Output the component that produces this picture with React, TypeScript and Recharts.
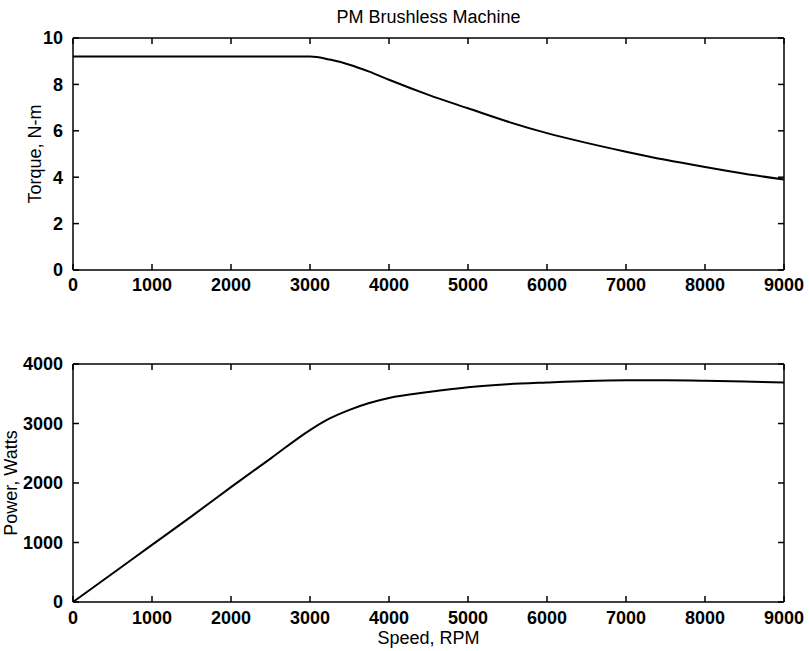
import { Label, Line, LineChart, XAxis, YAxis } from "recharts";

// values
const speedRpm = [
  0, 500, 1000, 1500, 2000, 2500, 3000, 3250, 3500, 3750, 4000, 4500, 5000,
  5500, 6000, 6500, 7000, 7500, 8000, 8500, 9000,
];
const torqueNm = [
  9.2, 9.2, 9.2, 9.2, 9.2, 9.2, 9.2, 9.07, 8.85, 8.55, 8.2, 7.55, 6.97, 6.4,
  5.9, 5.48, 5.1, 4.75, 4.44, 4.15, 3.9,
];
const powerW = [
  0, 480, 960, 1440, 1930, 2410, 2890, 3085, 3230, 3345, 3430, 3530, 3610,
  3660, 3690, 3715, 3725, 3725, 3718, 3705, 3690,
];

const speedTicks = [0, 1000, 2000, 3000, 4000, 5000, 6000, 7000, 8000, 9000];
const torqueTicks = [0, 2, 4, 6, 8, 10];
const powerTicks = [0, 1000, 2000, 3000, 4000];

const data = speedRpm.map((speed, i) => ({
  speed,
  torque: torqueNm[i],
  power: powerW[i],
}));

const FONT = "'Liberation Sans', Arial, Helvetica, sans-serif";
const TICK_LEN = 6;
const axisLine = { stroke: "#000", strokeWidth: 1.5 };

// matlab style: tick marks point into the plot box
function BottomTick(gap: number) {
  return (props: any) => {
    const { x, y, payload } = props;
    const axisY = y - gap;
    return (
      <g>
        <line x1={x} x2={x} y1={axisY} y2={axisY - TICK_LEN} stroke="#000" strokeWidth={1.5} />
        <text
          x={x}
          y={y}
          dy="0.72em"
          textAnchor="middle"
          fill="#000"
          fontSize={18}
          fontWeight={700}
          fontFamily={FONT}
        >
          {payload.value}
        </text>
      </g>
    );
  };
}

function LeftTick(gap: number) {
  return (props: any) => {
    const { x, y, payload } = props;
    const axisX = x + gap;
    return (
      <g>
        <line x1={axisX} x2={axisX + TICK_LEN} y1={y} y2={y} stroke="#000" strokeWidth={1.5} />
        <text
          x={x}
          y={y}
          dy="0.36em"
          textAnchor="end"
          fill="#000"
          fontSize={18}
          fontWeight={700}
          fontFamily={FONT}
        >
          {payload.value}
        </text>
      </g>
    );
  };
}

const TopTick = (props: any) => (
  <line x1={props.x} x2={props.x} y1={props.y} y2={props.y + TICK_LEN} stroke="#000" strokeWidth={1.5} />
);

const RightTick = (props: any) => (
  <line x1={props.x} x2={props.x - TICK_LEN} y1={props.y} y2={props.y} stroke="#000" strokeWidth={1.5} />
);

function VerticalLabel({ text, x, y }: { text: string; x: number; y: number }) {
  return (
    <text
      x={x}
      y={y}
      transform={`rotate(-90 ${x} ${y})`}
      textAnchor="middle"
      dominantBaseline="central"
      fill="#000"
      fontSize={18}
      fontFamily={FONT}
    >
      {text}
    </text>
  );
}

export default function App() {
  return (
    <div
      style={{
        position: "absolute",
        left: 0,
        top: 0,
        width: 809,
        height: 651,
        background: "#fff",
        fontFamily: FONT,
      }}
    >
      <div style={{ position: "absolute", left: 0, top: 0 }}>
        <LineChart
          width={809}
          height={300}
          data={data}
          margin={{ top: 37, right: 24, bottom: 0, left: 0 }}
        >
          <XAxis
            dataKey="speed"
            type="number"
            domain={[0, 9000]}
            ticks={speedTicks}
            interval={0}
            height={30}
            tickSize={0}
            tickMargin={8}
            axisLine={axisLine}
            tickLine={false}
            tick={BottomTick(8)}
          />
          <XAxis
            xAxisId="top"
            orientation="top"
            dataKey="speed"
            type="number"
            domain={[0, 9000]}
            allowDataOverflow
            ticks={speedTicks}
            interval={0}
            height={1}
            tickSize={0}
            tickMargin={0}
            axisLine={axisLine}
            tickLine={false}
            tick={TopTick}
          >
            <Label
              value="PM Brushless Machine"
              position="top"
              offset={14}
              fill="#000"
              fontSize={18}
              fontFamily={FONT}
            />
          </XAxis>
          <YAxis
            type="number"
            domain={[0, 10]}
            ticks={torqueTicks}
            interval={0}
            width={73}
            tickSize={0}
            tickMargin={10}
            axisLine={axisLine}
            tickLine={false}
            tick={LeftTick(10)}
          >
            <Label content={() => <VerticalLabel text="Torque, N-m" x={35} y={154} />} />
          </YAxis>
          <YAxis
            yAxisId="right"
            orientation="right"
            type="number"
            domain={[0, 10]}
            allowDataOverflow
            ticks={torqueTicks}
            interval={0}
            width={1}
            tickSize={0}
            tickMargin={0}
            axisLine={axisLine}
            tickLine={false}
            tick={RightTick}
          />
          <Line
            type="monotone"
            dataKey="torque"
            stroke="#000"
            strokeWidth={2}
            dot={false}
            isAnimationActive={false}
          />
        </LineChart>
      </div>
      <div style={{ position: "absolute", left: 0, top: 300 }}>
        <LineChart
          width={809}
          height={351}
          data={data}
          margin={{ top: 63, right: 24, bottom: 0, left: 0 }}
        >
          <XAxis
            dataKey="speed"
            type="number"
            domain={[0, 9000]}
            ticks={speedTicks}
            interval={0}
            height={49}
            tickSize={0}
            tickMargin={9}
            axisLine={axisLine}
            tickLine={false}
            tick={BottomTick(9)}
          >
            <Label
              value="Speed, RPM"
              position="insideBottom"
              offset={7}
              fill="#000"
              fontSize={18}
              fontFamily={FONT}
            />
          </XAxis>
          <XAxis
            xAxisId="top"
            orientation="top"
            dataKey="speed"
            type="number"
            domain={[0, 9000]}
            allowDataOverflow
            ticks={speedTicks}
            interval={0}
            height={1}
            tickSize={0}
            tickMargin={0}
            axisLine={axisLine}
            tickLine={false}
            tick={TopTick}
          />
          <YAxis
            type="number"
            domain={[0, 4000]}
            ticks={powerTicks}
            interval={0}
            width={73}
            tickSize={0}
            tickMargin={10}
            axisLine={axisLine}
            tickLine={false}
            tick={LeftTick(10)}
          >
            <Label content={() => <VerticalLabel text="Power, Watts" x={11} y={183} />} />
          </YAxis>
          <YAxis
            yAxisId="right"
            orientation="right"
            type="number"
            domain={[0, 4000]}
            allowDataOverflow
            ticks={powerTicks}
            interval={0}
            width={1}
            tickSize={0}
            tickMargin={0}
            axisLine={axisLine}
            tickLine={false}
            tick={RightTick}
          />
          <Line
            type="monotone"
            dataKey="power"
            stroke="#000"
            strokeWidth={2}
            dot={false}
            isAnimationActive={false}
          />
        </LineChart>
      </div>
    </div>
  );
}
